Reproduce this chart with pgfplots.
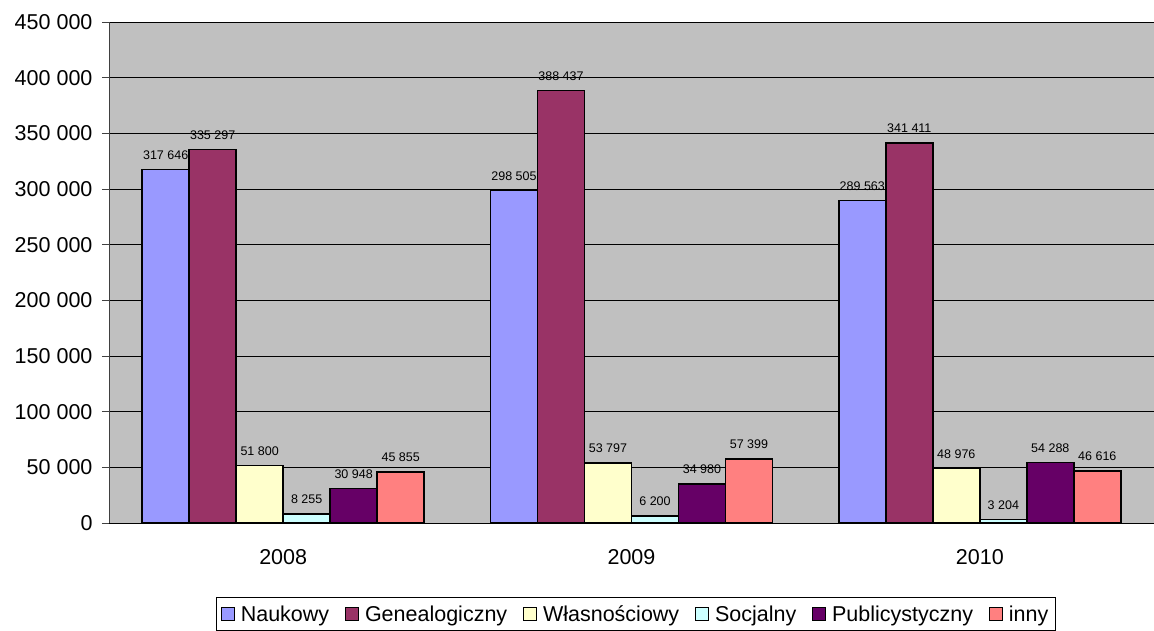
\documentclass[border=0pt]{standalone}
\usepackage{fontspec}
\setmainfont{Liberation Sans}
\usepackage{pgfplots}
\pgfplotsset{compat=1.18}

\definecolor{cNauk}{HTML}{9999FF}
\definecolor{cGene}{HTML}{993366}
\definecolor{cWlas}{HTML}{FFFFCC}
\definecolor{cSocj}{HTML}{CCFFFF}
\definecolor{cPubl}{HTML}{660066}
\definecolor{cInny}{HTML}{FF8080}
\definecolor{bgGray}{HTML}{C0C0C0}

\pgfplotsset{
  sq/.style={draw=black, line width=1.5pt, fill=#1,
    legend image code/.code={\draw[draw=black, line width=0.8pt, fill=#1] (0pt,-6.5pt) rectangle (13pt,6.5pt);}},
}

\begin{document}
\begin{tikzpicture}
\begin{axis}[
    at={(0,0)}, anchor=south west,
    scale only axis, width=1045pt, height=501pt,
    ybar=0pt, bar width=47pt,
    xmin=-0.5, xmax=2.5, ymin=0, ymax=450000,
    xtick={0,1,2}, xticklabels={2008,2009,2010},
    minor xtick={-0.5,0.5,1.5},
    ytick={0,50000,100000,150000,200000,250000,300000,350000,400000,450000},
    yticklabels={0,50 000,100 000,150 000,200 000,250 000,300 000,350 000,400 000,450 000},
    scaled y ticks=false,
    axis background/.style={fill=bgGray},
    ymajorgrids, major grid style={black, line width=0.8pt},
    axis x line*=bottom, axis y line*=left,
    axis line style={-, line width=0.9pt},
    y axis line style={gray!50!black},
    tick align=outside, major tick length=7pt, minor tick length=8pt,
    xtick style={draw=none}, minor tick style={draw=black, line width=0.8pt},
    ytick style={draw=gray!50!black, line width=0.8pt},
    tick label style={font=\fontsize{21.5}{24}\selectfont},
    yticklabel style={xshift=-6pt},
    xticklabel style={yshift=-16pt},
    point meta=explicit symbolic,
    nodes near coords,
    every node near coord/.append style={font=\fontsize{12.5}{14}\selectfont, anchor=south, yshift=6pt, black},
    legend style={at={(0.504,-0.148)}, anchor=north, legend columns=-1, draw=black,
      line width=0.8pt, font=\fontsize{21.5}{24}\selectfont, inner xsep=5pt, inner ysep=6pt,
      /tikz/every odd column/.append style={column sep=4pt},
      /tikz/every even column/.append style={column sep=14pt}},
    legend cell align=left,
  ]
  \addplot[sq=cNauk] coordinates {(0,317646) [317 646] (1,298505) [298 505] (2,289563) [289 563]};
  \addplot[sq=cGene] coordinates {(0,335297) [335 297] (1,388437) [388 437] (2,341411) [341 411]};
  \addplot[sq=cWlas] coordinates {(0,51800) [51 800] (1,53797) [53 797] (2,48976) [48 976]};
  \addplot[sq=cSocj] coordinates {(0,8255) [8 255] (1,6200) [6 200] (2,3204) [3 204]};
  \addplot[sq=cPubl] coordinates {(0,30948) [30 948] (1,34980) [34 980] (2,54288) [54 288]};
  \addplot[sq=cInny] coordinates {(0,45855) [45 855] (1,57399) [57 399] (2,46616) [46 616]};
  \legend{Naukowy, Genealogiczny, Własnościowy, Socjalny, Publicystyczny, inny}
\end{axis}
\pgfresetboundingbox
\path[use as bounding box] (-109pt,-108pt) rectangle (1045pt,523pt);
\end{tikzpicture}
\end{document}
